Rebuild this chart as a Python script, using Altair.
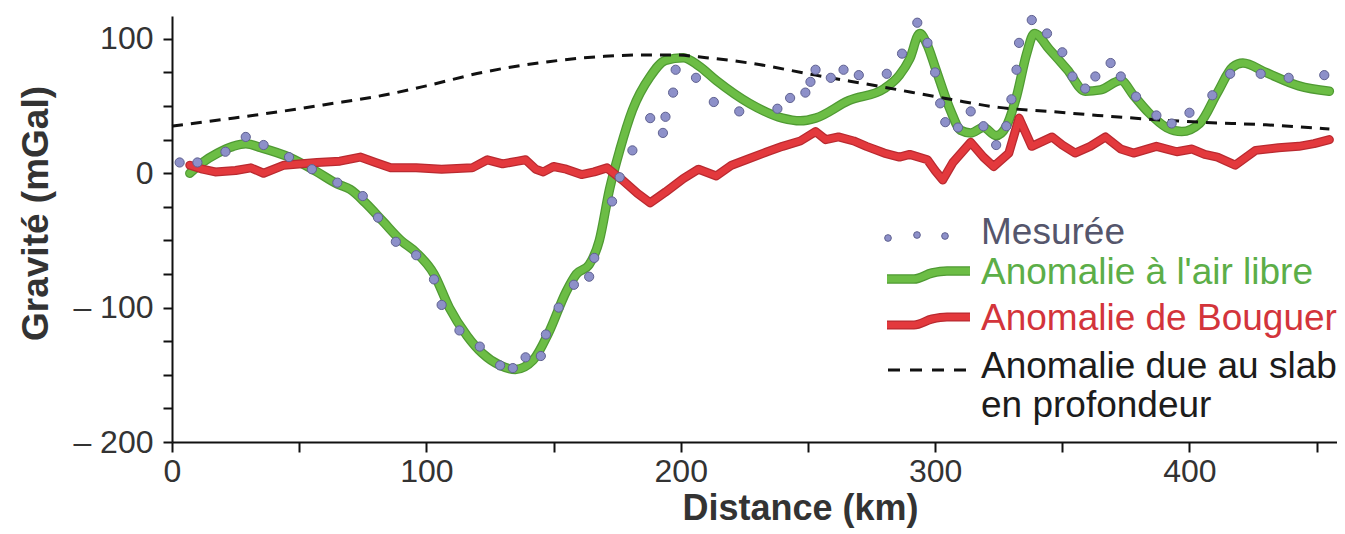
import altair as alt
import pandas as pd

# ---------------- data ----------------
free_km = [7, 12, 18, 24, 29, 35, 46, 57, 65, 70, 76, 83, 90, 96, 103, 109, 116, 122, 129, 135,
           142, 148, 155, 159, 164, 168, 172, 176, 181, 188, 194, 201, 207, 214, 227, 240, 247, 253,
           266, 280, 286, 290, 294, 297, 300, 306, 310, 314, 319, 324, 328, 332, 336, 339, 345, 352,
           359, 365, 373, 378, 384, 391, 397, 404, 411, 417, 421, 430, 443, 455]
free_mgal = [0, 8, 15, 20, 22, 19, 12, 1, -8, -12, -22, -36, -50, -59, -75, -100, -121, -134, -143, -146,
             -139, -119, -88, -75, -68, -50, -12, 17, 47, 72, 84, 86, 80, 69, 52, 41, 39, 41,
             54, 63, 73, 85, 104, 95, 79, 47, 32, 30, 34, 28, 35, 57, 89, 104, 92, 77,
             61, 62, 69, 58, 45, 34, 31, 37, 60, 79, 82, 75, 65, 61]

boug_km = [7, 12, 17, 25, 31, 36, 44, 57, 66, 74, 80, 86, 96, 106, 118, 124, 130, 136, 139, 143,
           146, 150, 155, 161, 166, 171, 177, 183, 188, 194, 201, 207, 214, 220, 227, 234, 240, 247,
           253, 257, 262, 268, 273, 280, 286, 290, 297, 300, 303, 307, 314, 319, 323, 329, 333, 338,
           346, 350, 355, 361, 367, 373, 378, 387, 395, 401, 406, 411, 418, 426, 435, 443, 449, 455]
boug_mgal = [6, 3, 1, 2, 4, 0, 6, 8, 9, 12, 8, 4, 4, 3, 4, 10, 7, 9, 10, 3,
             1, 5, 3, -1, 1, 4, -5, -15, -22, -14, -4, 3, -2, 6, 11, 16, 20, 24,
             31, 25, 27, 24, 20, 15, 12, 14, 10, 2, -5, 8, 23, 12, 5, 15, 41, 20,
             27, 21, 15, 20, 27, 18, 15, 20, 16, 18, 14, 12, 6, 17, 19, 20, 22, 25]

meas_km = [3, 10, 21, 29, 36, 46, 55, 65, 75, 81, 88, 96, 103, 106, 113, 121, 129, 134, 139, 145,
           147, 152, 158, 164, 166, 173, 176, 181, 188, 193, 194, 197, 198, 206, 213, 223, 238, 243,
           249, 251, 253, 259, 264, 270, 281, 287, 293, 297, 300, 302, 304, 309, 314, 319, 324, 328,
           330, 332, 333, 338, 344, 350, 354, 359, 363, 369, 373, 379, 387, 393, 400, 409, 416, 428,
           439, 453]
meas_mgal = [8, 8, 16, 27, 21, 12, 3, -7, -17, -33, -51, -61, -79, -98, -117, -129, -143, -145, -137, -136,
             -120, -100, -83, -77, -63, -21, -3, 17, 41, 30, 42, 60, 77, 71, 53, 46, 48, 56,
             60, 68, 77, 71, 77, 73, 74, 89, 112, 97, 75, 52, 38, 34, 46, 35, 21, 35,
             55, 77, 97, 114, 104, 90, 72, 63, 72, 82, 72, 57, 43, 37, 45, 58, 74, 74,
             71, 73]

slab_km = [0, 20, 43, 60, 83, 100, 122, 148, 170, 185, 197, 210, 227, 253, 280, 306, 325, 345, 364, 404, 430, 455]
slab_mgal = [35, 40, 46, 51, 58, 65, 75, 83, 87, 88, 88, 86, 82, 73, 64, 55, 49, 46, 43, 38, 36, 33]

x_ticks = list(range(0, 451, 50))
y_ticks = list(range(-200, 101, 25))

legend_labels = ["Mesurée", "Anomalie à l'air libre", "Anomalie de Bouguer",
                 "Anomalie due au slab", "en profondeur"]

# ---------------- layout / style ----------------
X_DOMAIN = [0, 458]
Y_DOMAIN = [-200, 117]
W, H = 1165, 426
FONT = "Liberation Sans"
GREEN = "#6cbd45"
GREEN_DARK = "#4f9a33"
RED = "#e3393d"
RED_DARK = "#b92a30"
DOT_FILL = "#8d90c9"
DOT_STROKE = "#5f6190"


def px_to_km(px):
    return X_DOMAIN[0] + px * (X_DOMAIN[1] - X_DOMAIN[0]) / W


def py_to_mgal(py):
    return Y_DOMAIN[1] - py * (Y_DOMAIN[1] - Y_DOMAIN[0]) / H


xs = alt.Scale(domain=X_DOMAIN, nice=False, zero=False)
ys = alt.Scale(domain=Y_DOMAIN, nice=False, zero=False)

x_axis = alt.Axis(
    values=x_ticks,
    labelExpr="datum.value % 100 == 0 ? datum.label : ''",
    title="Distance (km)",
    labelFlush=False, labelFont=FONT, labelFontSize=32, labelColor="#333333",
    labelPadding=4, tickSize=10, tickWidth=2, tickColor="#111111",
    domainColor="#111111", domainWidth=2, grid=False,
    titleFont=FONT, titleFontSize=36, titleFontWeight="bold", titleColor="#333333",
    titleX=628, titleY=66, titleBaseline="middle", titleAlign="center",
)
y_axis = alt.Axis(
    values=y_ticks,
    labelExpr="datum.value % 100 != 0 ? '' : (datum.value < 0 ? '\u2013 ' + abs(datum.value) : datum.label)",
    title="Gravité (mGal)",
    labelFlush=False, labelFont=FONT, labelFontSize=32, labelColor="#333333",
    labelPadding=10, tickSize=9, tickWidth=2, tickColor="#111111",
    domainColor="#111111", domainWidth=2, grid=False,
    titleFont=FONT, titleFontSize=37, titleFontWeight="bold", titleColor="#333333",
    titleX=-136, titleY=197, titleBaseline="middle", titleAlign="center", titleAngle=-90,
)

free_df = pd.DataFrame({"km": free_km, "mgal": free_mgal})
boug_df = pd.DataFrame({"km": boug_km, "mgal": boug_mgal})
meas_df = pd.DataFrame({"km": meas_km, "mgal": meas_mgal})
slab_df = pd.DataFrame({"km": slab_km, "mgal": slab_mgal})


def enc(chart):
    return chart.encode(
        x=alt.X("km:Q", scale=xs, axis=x_axis),
        y=alt.Y("mgal:Q", scale=ys, axis=y_axis),
    )


free_under = enc(alt.Chart(free_df).mark_line(color=GREEN_DARK, strokeWidth=9.5, interpolate="monotone",
                                              strokeCap="round", strokeJoin="round"))
free_line = enc(alt.Chart(free_df).mark_line(color=GREEN, strokeWidth=7, interpolate="monotone",
                                             strokeCap="round", strokeJoin="round"))
boug_under = enc(alt.Chart(boug_df).mark_line(color=RED_DARK, strokeWidth=9, strokeCap="round",
                                              strokeJoin="round"))
boug_line = enc(alt.Chart(boug_df).mark_line(color=RED, strokeWidth=6.5, strokeCap="round",
                                             strokeJoin="round"))
slab_line = enc(alt.Chart(slab_df).mark_line(color="#111111", strokeWidth=3, strokeDash=[11, 8],
                                             interpolate="monotone"))
dots = enc(alt.Chart(meas_df).mark_point(filled=True, size=85, fill=DOT_FILL, stroke=DOT_STROKE,
                                         strokeWidth=1, opacity=1))

# ---------------- legend (drawn by hand, positions in plot pixels) ----------------
leg_dot_px = [(716, 222), (745, 219), (773, 220)]
leg_green_px = [(715, 263), (742, 263), (760, 257), (775, 255), (798, 255)]
leg_red_px = [(715, 309), (742, 309), (760, 303), (775, 301), (798, 301)]
leg_dash_px = [(716, 354), (800, 354)]
leg_text_x = 809
leg_text_y = [228, 268, 314, 362, 401]
leg_text_colors = ["#55566c", "#5cae48", "#d3343b", "#1c1c1c", "#1c1c1c"]


def pts_df(pts):
    return pd.DataFrame({"km": [px_to_km(p[0]) for p in pts], "mgal": [py_to_mgal(p[1]) for p in pts]})


leg_dots = enc(alt.Chart(pts_df(leg_dot_px)).mark_point(filled=True, size=45, fill=DOT_FILL,
                                                        stroke=DOT_STROKE, strokeWidth=1, opacity=1))
leg_green_u = enc(alt.Chart(pts_df(leg_green_px)).mark_line(color=GREEN_DARK, strokeWidth=9.5, interpolate="monotone"))
leg_green = enc(alt.Chart(pts_df(leg_green_px)).mark_line(color=GREEN, strokeWidth=7, interpolate="monotone"))
leg_red_u = enc(alt.Chart(pts_df(leg_red_px)).mark_line(color=RED_DARK, strokeWidth=9, interpolate="monotone"))
leg_red = enc(alt.Chart(pts_df(leg_red_px)).mark_line(color=RED, strokeWidth=6.5, interpolate="monotone"))
leg_dash = enc(alt.Chart(pts_df(leg_dash_px)).mark_line(color="#111111", strokeWidth=3, strokeDash=[12, 10]))

text_df = pd.DataFrame({
    "km": [px_to_km(leg_text_x)] * len(legend_labels),
    "mgal": [py_to_mgal(y) for y in leg_text_y],
    "label": legend_labels,
    "color": leg_text_colors,
})
leg_text = alt.Chart(text_df).mark_text(align="left", baseline="alphabetic", font=FONT, fontSize=37).encode(
    x=alt.X("km:Q", scale=xs, axis=x_axis),
    y=alt.Y("mgal:Q", scale=ys, axis=y_axis),
    text="label:N",
    color=alt.Color("color:N", scale=None),
)

chart = alt.layer(
    free_under, free_line, boug_under, boug_line, slab_line, dots,
    leg_dots, leg_green_u, leg_green, leg_red_u, leg_red, leg_dash, leg_text,
).properties(
    width=W, height=H,
    autosize=alt.AutoSizeParams(type="none"),
    padding={"left": 164, "top": 8, "right": 0, "bottom": 86},
    background="white",
).configure_view(stroke=None)

chart.save("out.html", embed_options={"renderer": "svg", "actions": False})
